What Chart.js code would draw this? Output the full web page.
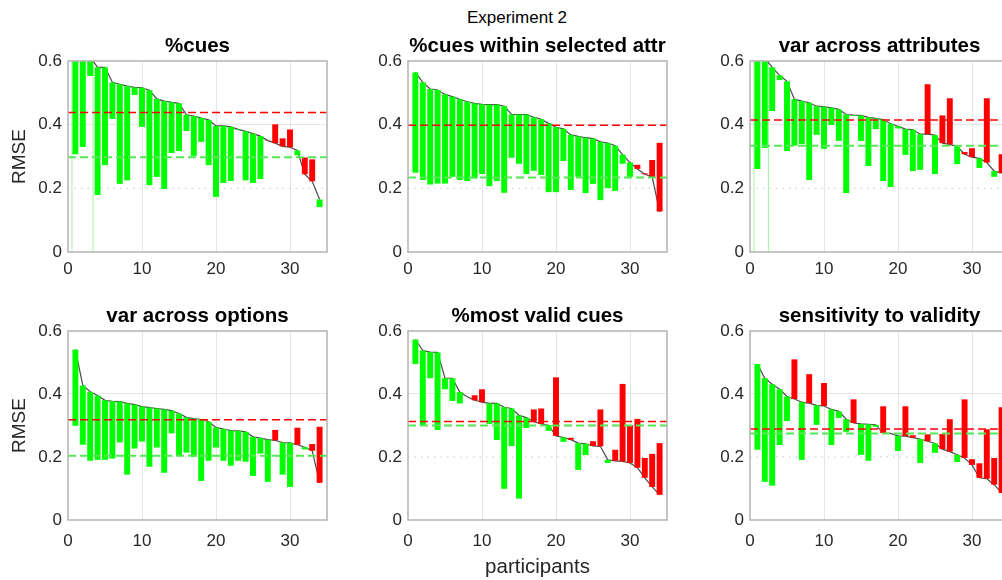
<!DOCTYPE html>
<html>
<head>
<meta charset="utf-8">
<script src="https://cdn.jsdelivr.net/npm/chart.js@4.4.1/dist/chart.umd.min.js"></script>
<style>
  html, body { margin: 0; padding: 0; background: #fff; }
  body { position: relative; width: 1002px; height: 580px; overflow: hidden; }
  canvas { position: absolute; }
  #suptitle {
    position: absolute; left: 0; top: 8px; width: 1034px; text-align: center;
    font: 17px 'Liberation Sans', Arial, sans-serif; color: #000;
  }
</style>
</head>
<body>
<div id="suptitle">Experiment 2</div>
<script>
// participant index (already sorted by baseline RMSE within each panel)
const participants = [1, 2, 3, 4, 5, 6, 7, 8, 9, 10, 11, 12, 13, 14, 15, 16, 17,
  18, 19, 20, 21, 22, 23, 24, 25, 26, 27, 28, 29, 30, 31, 32, 33, 34];

const panelTitles = ['%cues', '%cues within selected attr', 'var across attributes',
  'var across options', '%most valid cues', 'sensitivity to validity'];

// baseline RMSE (black curve) and RMSE with the feature (other end of each bar)
const cuesBase = [0.72, 0.65, 0.612, 0.580, 0.580, 0.533, 0.527, 0.521, 0.517, 0.516, 0.508, 0.481,
  0.474, 0.470, 0.467, 0.431, 0.427, 0.421, 0.415, 0.396, 0.396, 0.393, 0.385, 0.379, 0.372,
  0.364, 0.350, 0.342, 0.332, 0.329, 0.319, 0.244, 0.222, 0.165];
const cuesModel = [0.307, 0.330, 0.553, 0.179, 0.273, 0.418, 0.214, 0.225, 0.493, 0.393, 0.210, 0.236,
  0.198, 0.311, 0.317, 0.380, 0.302, 0.346, 0.273, 0.173, 0.217, 0.223, 0.383, 0.225, 0.217,
  0.229, 0.351, 0.401, 0.357, 0.385, 0.304, 0.297, 0.291, 0.141];

const withinBase = [0.564, 0.533, 0.512, 0.509, 0.495, 0.488, 0.480, 0.472, 0.467, 0.464, 0.463, 0.463,
  0.458, 0.432, 0.432, 0.432, 0.423, 0.417, 0.404, 0.392, 0.387, 0.368, 0.363, 0.359, 0.356,
  0.346, 0.342, 0.334, 0.306, 0.281, 0.261, 0.244, 0.236, 0.127];
const withinModel = [0.249, 0.226, 0.212, 0.215, 0.215, 0.236, 0.226, 0.223, 0.231, 0.245, 0.207, 0.223,
  0.186, 0.296, 0.277, 0.245, 0.255, 0.242, 0.188, 0.188, 0.286, 0.195, 0.236, 0.185, 0.214,
  0.163, 0.201, 0.192, 0.277, 0.236, 0.274, 0.247, 0.289, 0.343];

const attrBase = [0.68, 0.61, 0.580, 0.555, 0.536, 0.480, 0.474, 0.469, 0.458, 0.456, 0.453, 0.448,
  0.432, 0.430, 0.429, 0.423, 0.420, 0.416, 0.403, 0.395, 0.386, 0.384, 0.370, 0.370, 0.367,
  0.342, 0.338, 0.331, 0.307, 0.298, 0.294, 0.281, 0.254, 0.248];
const attrModel = [0.261, 0.327, 0.443, 0.540, 0.317, 0.334, 0.339, 0.226, 0.368, 0.324, 0.399, 0.349,
  0.185, 0.428, 0.349, 0.270, 0.386, 0.223, 0.204, 0.388, 0.305, 0.254, 0.258, 0.527, 0.245,
  0.429, 0.483, 0.276, 0.314, 0.326, 0.264, 0.483, 0.236, 0.307];

const optionsBase = [0.541, 0.427, 0.407, 0.395, 0.380, 0.377, 0.376, 0.370, 0.366, 0.360, 0.357, 0.354,
  0.351, 0.347, 0.338, 0.326, 0.322, 0.319, 0.312, 0.294, 0.289, 0.284, 0.283, 0.280, 0.264,
  0.260, 0.255, 0.253, 0.246, 0.245, 0.239, 0.231, 0.220, 0.118];
const optionsModel = [0.299, 0.239, 0.188, 0.191, 0.191, 0.195, 0.246, 0.144, 0.227, 0.249, 0.169, 0.230,
  0.150, 0.275, 0.204, 0.214, 0.201, 0.124, 0.188, 0.230, 0.188, 0.172, 0.188, 0.185, 0.140,
  0.211, 0.121, 0.286, 0.144, 0.105, 0.293, 0.224, 0.241, 0.296];

const validBase = [0.573, 0.538, 0.533, 0.532, 0.450, 0.450, 0.406, 0.391, 0.380, 0.374, 0.370, 0.370,
  0.358, 0.354, 0.332, 0.325, 0.312, 0.305, 0.301, 0.267, 0.262, 0.255, 0.244, 0.242, 0.235,
  0.234, 0.191, 0.188, 0.186, 0.181, 0.166, 0.134, 0.105, 0.080];
const validModel = [0.495, 0.299, 0.450, 0.286, 0.415, 0.378, 0.370, 0.391, 0.396, 0.415, 0.305, 0.254,
  0.099, 0.235, 0.068, 0.292, 0.351, 0.354, 0.283, 0.453, 0.248, 0.261, 0.159, 0.206, 0.250,
  0.351, 0.181, 0.223, 0.432, 0.301, 0.321, 0.197, 0.210, 0.244];

const sensBase = [0.495, 0.450, 0.431, 0.415, 0.392, 0.384, 0.374, 0.371, 0.364, 0.362, 0.351, 0.345,
  0.320, 0.308, 0.305, 0.304, 0.302, 0.276, 0.275, 0.267, 0.266, 0.261, 0.257, 0.250, 0.243,
  0.225, 0.217, 0.207, 0.197, 0.175, 0.134, 0.131, 0.112, 0.086];
const sensModel = [0.223, 0.121, 0.109, 0.238, 0.314, 0.510, 0.191, 0.463, 0.302, 0.435, 0.238, 0.324,
  0.280, 0.383, 0.207, 0.188, 0.296, 0.361, 0.275, 0.219, 0.361, 0.269, 0.181, 0.272, 0.213,
  0.273, 0.320, 0.184, 0.383, 0.193, 0.180, 0.288, 0.197, 0.358];

// mean levels drawn as dashed lines (red: baseline, green: with feature)
const redLevels = [0.438, 0.398, 0.415, 0.318, 0.313, 0.289];
const greenLevels = [0.298, 0.234, 0.334, 0.204, 0.300, 0.275];
const dottedLevel = 0.2;

// thin vertical traces of off-scale fits
const cuesTraces = [0.54, 3.38];
const attrTraces = [0.54, 2.48];

const xTicks = [0, 10, 20, 30];
const yTicks = [0, 0.2, 0.4, 0.6];
const xMax = 35;
const yMax = 0.6;

const FONT = "'Liberation Sans', Arial, sans-serif";
const TEXT = '#262626';
const plotLeft = [68, 408, 750];
const plotTop = [61, 331];
const plotHeight = [191, 189];
const plotWidth = 259;
const titleH = 45;

const boxPlugin = {
  id: 'box',
  afterDatasetsDraw(chart) {
    const { ctx, chartArea: a } = chart;
    ctx.save();
    ctx.strokeStyle = '#b3b3b3';
    ctx.lineWidth = 1.5;
    ctx.strokeRect(a.left, a.top, a.right - a.left, a.bottom - a.top);
    ctx.restore();
  }
};

function hline(level, color, width, dash, order) {
  return {
    type: 'line',
    data: [{ x: 0, y: level }, { x: xMax, y: level }],
    borderColor: color, borderWidth: width, borderDash: dash,
    pointRadius: 0, order: order
  };
}

function vline(x) {
  return {
    type: 'line',
    data: [{ x: x, y: 0 }, { x: x, y: yMax }],
    borderColor: '#a6f0a6', borderWidth: 1,
    pointRadius: 0, order: 4
  };
}

function drawPanel(n, base, model, traces) {
  const col = n % 3, row = Math.floor(n / 3);
  const left = plotLeft[col], top = plotTop[row], h = plotHeight[row];
  const axisW = col === 0 ? left : 62;
  const withXLabel = n === 4;
  const xAxisH = withXLabel ? 580 - (top + h) : 44;

  const canvas = document.createElement('canvas');
  canvas.width = axisW + plotWidth + 4;
  canvas.height = titleH + h + xAxisH;
  canvas.style.width = canvas.width + 'px';
  canvas.style.height = canvas.height + 'px';
  canvas.style.left = (left - axisW) + 'px';
  canvas.style.top = (top - titleH) + 'px';
  document.body.appendChild(canvas);

  const datasets = [
    hline(redLevels[n], '#ff0000', 1.5, [8, 4], 0),
    hline(greenLevels[n], '#55e855', 2, [8, 4], 0),
    {
      type: 'bar',
      data: participants.map((p, k) => ({ x: p, y: [base[k], model[k]] })),
      backgroundColor: participants.map((p, k) => model[k] <= base[k] ? '#00ff00' : '#ff0000'),
      borderWidth: 0,
      barPercentage: 0.8,
      categoryPercentage: 1,
      order: 1
    },
    {
      type: 'line',
      data: participants.map((p, k) => ({ x: p, y: base[k] })),
      borderColor: '#4a4a4a', borderWidth: 1.2,
      pointRadius: 0, order: 2
    },
    hline(dottedLevel, '#c8c8c8', 1, [1.5, 5], 5)
  ];
  (traces || []).forEach(x => datasets.push(vline(x)));

  new Chart(canvas, {
    type: 'bar',
    data: { datasets },
    plugins: [boxPlugin],
    options: {
      responsive: false,
      animation: false,
      devicePixelRatio: 1,
      layout: { padding: { left: 0, right: 4, top: 0, bottom: 0 } },
      plugins: {
        legend: { display: false },
        tooltip: { enabled: false },
        title: {
          display: true,
          fullSize: false,
          text: panelTitles[n],
          color: '#000',
          font: { family: FONT, size: 20.5, weight: 'bold', lineHeight: 1.2 },
          padding: { top: 17.7, bottom: 2.7 }
        }
      },
      scales: {
        x: {
          type: 'linear',
          min: 0, max: xMax,
          offset: false,
          afterFit: s => { s.height = xAxisH; },
          afterBuildTicks: s => { s.ticks = xTicks.map(v => ({ value: v })); },
          grid: {
            offset: false, drawTicks: false, lineWidth: 1,
            color: c => (c.tick && c.tick.value === 0) ? 'rgba(0,0,0,0)' : '#e6e6e6'
          },
          border: { display: false },
          ticks: {
            color: TEXT, padding: row === 0 ? 7 : 11, maxRotation: 0, autoSkip: false,
            font: { family: FONT, size: 17 },
            callback: v => String(v)
          },
          title: {
            display: withXLabel,
            text: 'participants',
            color: TEXT,
            font: { family: FONT, size: 20.5 },
            padding: { top: 0, bottom: 0 }
          }
        },
        y: {
          min: 0, max: yMax,
          afterFit: s => { s.width = axisW; },
          afterBuildTicks: s => { s.ticks = yTicks.map(v => ({ value: v })); },
          grid: {
            drawTicks: false, lineWidth: 1,
            color: c => (c.tick && Math.abs(c.tick.value - 0.4) < 1e-6) ? '#e6e6e6' : 'rgba(0,0,0,0)'
          },
          border: { display: false },
          ticks: {
            color: TEXT, padding: 6,
            font: { family: FONT, size: 17 },
            callback: v => String(+v.toFixed(1))
          },
          title: {
            display: col === 0,
            text: 'RMSE',
            color: TEXT,
            font: { family: FONT, size: 19 },
            padding: { top: 8.6, bottom: 0 }
          }
        }
      }
    }
  });
}

drawPanel(0, cuesBase, cuesModel, cuesTraces);
drawPanel(1, withinBase, withinModel);
drawPanel(2, attrBase, attrModel, attrTraces);
drawPanel(3, optionsBase, optionsModel);
drawPanel(4, validBase, validModel);
drawPanel(5, sensBase, sensModel);
</script>
</body>
</html>
